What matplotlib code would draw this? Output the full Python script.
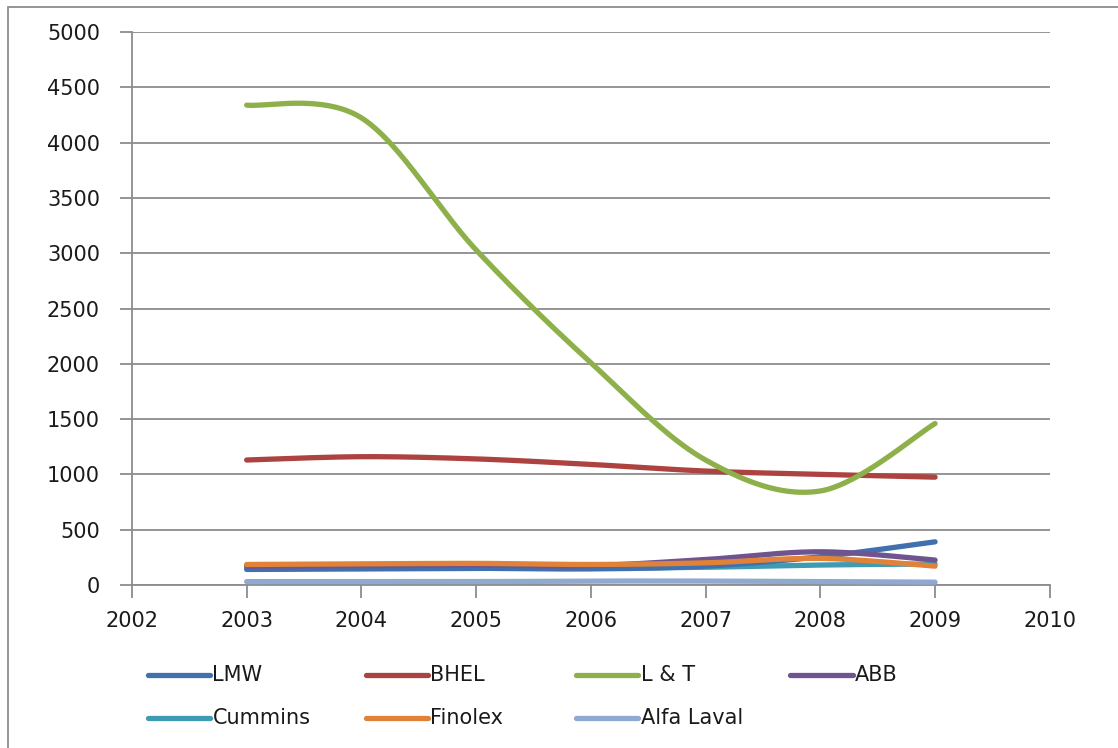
import matplotlib
matplotlib.use("Agg")
import matplotlib.pyplot as plt
import numpy as np
from matplotlib.lines import Line2D
from matplotlib.patches import Rectangle

years = [2003, 2004, 2005, 2006, 2007, 2008, 2009]

lmw = [140, 145, 150, 145, 170, 255, 390]
bhel = [1130, 1160, 1140, 1090, 1030, 1000, 975]
lnt = [4340, 4225, 3030, 2010, 1130, 850, 1460]
abb = [170, 175, 180, 175, 230, 300, 225]
cummins = [150, 150, 150, 150, 160, 180, 190]
finolex = [185, 190, 195, 185, 200, 240, 170]
alfa_laval = [30, 30, 30, 35, 35, 30, 25]

names = ["LMW", "BHEL", "L & T", "ABB", "Cummins", "Finolex", "Alfa Laval"]
series = [lmw, bhel, lnt, abb, cummins, finolex, alfa_laval]
colors = ["#4170AE", "#AC4340", "#8DB04A", "#70548F", "#3E9BB2", "#E08238", "#90A9D0"]


def excel_smooth(x, y, n=40):
    # Bezier curve through the points, like Excel's "smoothed line"
    x = np.asarray(x, float)
    y = np.asarray(y, float)
    px = np.concatenate([[x[0]], x, [x[-1]]])
    py = np.concatenate([[y[0]], y, [y[-1]]])
    t = np.linspace(0, 1, n)
    xs, ys = [], []
    for i in range(1, len(px) - 2):
        p0 = np.array([px[i], py[i]])
        p3 = np.array([px[i + 1], py[i + 1]])
        p1 = p0 + (np.array([px[i + 1], py[i + 1]]) - np.array([px[i - 1], py[i - 1]])) / 6
        p2 = p3 - (np.array([px[i + 2], py[i + 2]]) - np.array([px[i], py[i]])) / 6
        b = ((1 - t) ** 3)[:, None] * p0 + (3 * (1 - t) ** 2 * t)[:, None] * p1 \
            + (3 * (1 - t) * t ** 2)[:, None] * p2 + (t ** 3)[:, None] * p3
        xs.append(b[:, 0])
        ys.append(b[:, 1])
    return np.concatenate(xs), np.concatenate(ys)


fig = plt.figure(figsize=(11.18, 7.48), dpi=100)
ax = fig.add_axes([0.118, 0.218, 0.821, 0.739])

# draw the small series first so the big ones sit on top the same way
order = [6, 4, 0, 3, 5, 1, 2]
for i in order:
    sx, sy = excel_smooth(years, series[i])
    ax.plot(sx, sy, color=colors[i], lw=3.8, solid_capstyle="round", zorder=3)

ax.set_xlim(2002, 2010)
ax.set_ylim(0, 5000)
ax.set_xticks(range(2002, 2011))
ax.set_yticks(range(0, 5001, 500))
ax.grid(axis="y", color="#8C8C8C", lw=1.3)
ax.set_axisbelow(True)
for s in ["top", "right"]:
    ax.spines[s].set_visible(False)
for s in ["left", "bottom"]:
    ax.spines[s].set_color("#8C8C8C")
    ax.spines[s].set_linewidth(1.3)
ax.tick_params(axis="both", direction="out", length=9, width=1.3, color="#8C8C8C",
               labelsize=15, labelcolor="#1a1a1a")
ax.tick_params(axis="y", pad=14)
ax.tick_params(axis="x", pad=10)

# legend, row by row in four columns
col_x = [0.132, 0.327, 0.515, 0.707]
row_y = [0.097, 0.040]
for i, name in enumerate(names):
    c, r = i % 4, i // 4
    x0 = col_x[c]
    fig.add_artist(Line2D([x0, x0 + 0.056], [row_y[r], row_y[r]], color=colors[i], lw=3.8,
                          solid_capstyle="round", transform=fig.transFigure))
    fig.text(x0 + 0.058, row_y[r], name, fontsize=15, va="center", ha="left", color="#1a1a1a")

# chart frame (only top and left edges fall inside the picture)
fig.add_artist(Rectangle((0.007, -0.1), 1.2, 1.09, transform=fig.transFigure,
                         fill=False, edgecolor="#8C8C8C", lw=1.3))

fig.savefig("out.png", dpi=100)
